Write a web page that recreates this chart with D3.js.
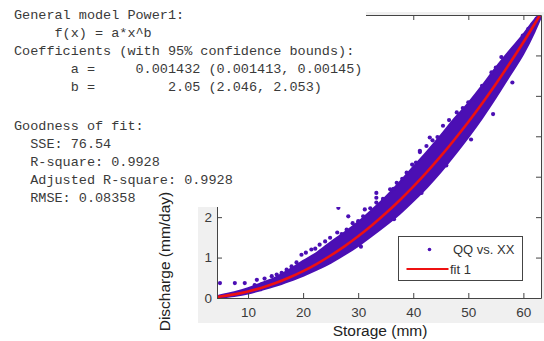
<!DOCTYPE html>
<html><head><meta charset="utf-8">
<script src="https://cdn.jsdelivr.net/npm/d3@7"></script>
<style>
html,body{margin:0;padding:0;background:#fff;}
svg{display:block;}
</style></head>
<body>
<svg id="chart" width="544" height="341"></svg>
<script>
// ---- data ----
const xTicks = [10, 20, 30, 40, 50, 60];
const yTicks = [0, 1, 2, 3, 4, 5, 6, 7];
const yTickLabels = [0, 1, 2]; // the others are hidden under the text panel

// fitted curve (fit 1) sampled values
const fitX = [4.36, 5, 7.5, 10, 12.5, 15, 17.5, 20, 22.5, 25, 27.5, 30, 32.5, 35, 37.5, 40, 42.5, 45, 47.5, 50, 52.5, 55, 57.5, 60, 62, 63.2];
const fitY = [0.030, 0.039, 0.089, 0.161, 0.254, 0.369, 0.506, 0.665, 0.846, 1.051, 1.278, 1.527, 1.80, 2.095, 2.413, 2.754, 3.12, 3.507, 3.92, 4.353, 4.81, 5.292, 5.80, 6.325, 6.77, 7.04];

// dense scatter band (QQ vs. XX): envelope of the cloud
const bandX    = [4.6, 5, 7.5, 10, 12.5, 15, 17.5, 20, 22.5, 25, 27.5, 30, 32.5, 35, 37.5, 40, 42.5, 45, 47.5, 50, 52.5, 55, 57.5, 60, 62, 63.2];
const bandHigh = [0.05, 0.07, 0.14, 0.24, 0.37, 0.51, 0.70, 0.92, 1.12, 1.38, 1.62, 1.88, 2.18, 2.50, 2.86, 3.24, 3.62, 4.02, 4.44, 4.82, 5.25, 5.70, 6.12, 6.52, 6.88, 7.05];
const bandLow  = [0.00, 0.01, 0.05, 0.11, 0.20, 0.30, 0.42, 0.55, 0.70, 0.87, 1.07, 1.29, 1.54, 1.80, 2.08, 2.40, 2.74, 3.12, 3.54, 3.98, 4.45, 4.96, 5.50, 6.04, 6.58, 6.95];

// individual points on the ragged edges of the cloud
const edgeX = [11.2, 13.0, 14.3, 15.2, 16.1, 17.0, 17.9, 18.8, 19.7, 20.5, 21.5, 22.2, 23.0, 24.0, 24.9, 26.2, 27.0, 27.9, 29.0, 30.0, 30.9, 31.2, 32.2, 33.3, 34.5, 35.8, 36.4, 37.0, 38.0, 38.8, 39.8, 40.5, 41.2, 42.4, 43.5, 44.4, 45.4, 46.5, 47.9, 49.0, 50.0, 51.2, 52.5, 53.4, 54.2, 55.0, 56.0, 57.3, 58.4, 59.2, 59.9, 60.9, 61.6, 62.4,
               30.5, 36.5, 41.5, 46.0, 50.5, 54.5, 58.0];
const edgeY = [0.32, 0.48, 0.54, 0.58, 0.62, 0.70, 0.78, 0.88, 1.07, 1.12, 1.20, 1.22, 1.32, 1.40, 1.49, 1.62, 1.58, 1.69, 1.85, 1.90, 2.02, 2.19, 2.22, 2.36, 2.45, 2.69, 2.70, 2.85, 2.95, 3.10, 3.30, 3.35, 3.61, 3.76, 3.90, 3.98, 4.26, 4.40, 4.59, 4.70, 4.84, 4.92, 5.25, 5.32, 5.58, 5.70, 5.96, 6.00, 6.16, 6.30, 6.49, 6.66, 6.75, 6.91,
               1.27, 1.95, 2.60, 3.28, 3.92, 4.55, 5.33];

// isolated outliers
const outX = [4.9, 7.6, 9.4, 11.6, 26.4, 28.2, 33.3, 33.3, 43.0, 41.2];
const outY = [0.37, 0.37, 0.37, 0.45, 2.23, 2.02, 2.60, 2.48, 3.97, 3.64];

const seriesName = "QQ vs. XX";
const fitName = "fit 1";
const xLabel = "Storage (mm)";
const yLabel = "Discharge (mm/day)";

const panelLines = [
  "General model Power1:",
  "     f(x) = a*x^b",
  "Coefficients (with 95% confidence bounds):",
  "       a =     0.001432 (0.001413, 0.00145)",
  "       b =         2.05 (2.046, 2.053)",
  "",
  "Goodness of fit:",
  "  SSE: 76.54",
  "  R-square: 0.9928",
  "  Adjusted R-square: 0.9928",
  "  RMSE: 0.08358"
];

// ---- drawing ----
const svg = d3.select("#chart");
const purple = "#4b0fb4";
const red = "#ee1111";
const axisCol = "#444";

const x = d3.scaleLinear().domain([4.36, 63.2]).range([217, 541]);
const y = d3.scaleLinear().domain([0, 7]).range([298, 15]);

// figure background
svg.append("rect").attr("x", 198).attr("y", 12).attr("width", 346).attr("height", 311).attr("fill", "#f0f0f0");
// axes background
svg.append("rect").attr("x", x.range()[0]).attr("y", y.range()[1])
  .attr("width", x.range()[1] - x.range()[0]).attr("height", y.range()[0] - y.range()[1]).attr("fill", "#fff");

svg.append("clipPath").attr("id", "clip").append("rect")
  .attr("x", x.range()[0]).attr("y", y.range()[1])
  .attr("width", x.range()[1] - x.range()[0]).attr("height", y.range()[0] - y.range()[1]);

const plot = svg.append("g").attr("clip-path", "url(#clip)");

const band = bandX.map((d, i) => ({x: d, lo: bandLow[i], hi: bandHigh[i]}));
plot.append("path").datum(band)
  .attr("d", d3.area().x(d => x(d.x)).y0(d => y(d.lo)).y1(d => y(d.hi)).curve(d3.curveMonotoneX))
  .attr("fill", purple).attr("stroke", purple).attr("stroke-width", 2).attr("stroke-linejoin", "round");

const pts = edgeX.map((d, i) => ({x: d, y: edgeY[i]}))
  .concat(outX.map((d, i) => ({x: d, y: outY[i]})));
plot.selectAll("circle.pt").data(pts).enter().append("circle")
  .attr("class", "pt")
  .attr("cx", d => x(d.x)).attr("cy", d => y(d.y)).attr("r", 2.1)
  .attr("fill", purple);

const fit = fitX.map((d, i) => ({x: d, y: fitY[i]}));
plot.append("path").datum(fit)
  .attr("d", d3.line().x(d => x(d.x)).y(d => y(d.y)).curve(d3.curveNatural))
  .attr("fill", "none").attr("stroke", red).attr("stroke-width", 2.6);

// axes
function styleAxis(g) {
  g.selectAll(".domain").attr("stroke", axisCol);
  g.selectAll(".tick line").attr("stroke", axisCol);
  g.selectAll(".tick text").attr("fill", "#3a3a3a").attr("font-family", "Liberation Sans, Arial, sans-serif").attr("font-size", "13.5px");
}
svg.append("g").attr("transform", "translate(0,298)")
  .call(d3.axisBottom(x).tickValues(xTicks).tickFormat(d3.format("d")).tickSizeInner(-5).tickSizeOuter(0).tickPadding(9))
  .call(styleAxis);
svg.append("g").attr("transform", "translate(0,15)")
  .call(d3.axisTop(x).tickValues(xTicks).tickFormat("").tickSizeInner(-5).tickSizeOuter(0))
  .call(styleAxis)
  .selectAll(".tick text").remove();
// left axis: tick marks everywhere, labels only where visible
svg.append("g").attr("transform", "translate(217,0)")
  .call(d3.axisLeft(y).tickValues(yTicks).tickFormat("").tickSizeInner(-5).tickSizeOuter(0))
  .call(styleAxis)
  .selectAll(".tick text").remove();
svg.append("g").attr("transform", "translate(217,0)")
  .call(d3.axisLeft(y).tickValues(yTickLabels).tickFormat(d3.format("d")).tickSize(0).tickPadding(5))
  .call(styleAxis)
  .select(".domain").remove();
svg.append("g").attr("transform", "translate(541,0)")
  .call(d3.axisRight(y).tickValues(yTicks).tickFormat("").tickSizeInner(-5).tickSizeOuter(0))
  .call(styleAxis)
  .selectAll(".tick text").remove();

// legend
const lg = svg.append("g");
lg.append("rect").attr("x", 398.5).attr("y", 236.5).attr("width", 124).attr("height", 44)
  .attr("fill", "#fff").attr("stroke", axisCol).attr("stroke-width", 1);
lg.append("circle").attr("cx", 429.5).attr("cy", 249.5).attr("r", 1.8).attr("fill", purple);
lg.append("text").attr("x", 453).attr("y", 254).text(seriesName)
  .attr("font-family", "Liberation Sans, Arial, sans-serif").attr("font-size", "13px").attr("fill", "#333");
lg.append("line").attr("x1", 406.5).attr("x2", 448.5).attr("y1", 269).attr("y2", 269)
  .attr("stroke", red).attr("stroke-width", 2);
lg.append("text").attr("x", 450).attr("y", 274).text(fitName)
  .attr("font-family", "Liberation Sans, Arial, sans-serif").attr("font-size", "13px").attr("fill", "#333");

// x label
svg.append("text").attr("x", 380).attr("y", 336).attr("text-anchor", "middle").text(xLabel)
  .attr("font-family", "Liberation Sans, Arial, sans-serif").attr("font-size", "15.5px").attr("fill", "#222");

// text panel (covers upper-left part of the axes)
svg.append("rect").attr("x", 0).attr("y", 0).attr("width", 366).attr("height", 207).attr("fill", "#fff");
const lineY = [19.3, 37.3, 55.3, 73.3, 91.3, 110, 129.8, 147.9, 166, 184.1, 202.2];
svg.append("g").selectAll("text").data(panelLines.map((t, i) => ({t, i})).filter(d => d.t !== ""))
  .enter().append("text")
  .attr("x", 14).attr("y", d => lineY[d.i])
  .attr("xml:space", "preserve").style("white-space", "pre")
  .attr("font-family", "Liberation Mono, Courier New, monospace").attr("font-size", "13.5px").attr("fill", "#3a3a3a")
  .text(d => d.t);

// y label (drawn over the panel)
svg.append("text").attr("transform", "translate(169.5,261.5) rotate(-90)").attr("text-anchor", "middle").text(yLabel)
  .attr("font-family", "Liberation Sans, Arial, sans-serif").attr("font-size", "15.5px").attr("fill", "#222");
</script>
</body></html>
